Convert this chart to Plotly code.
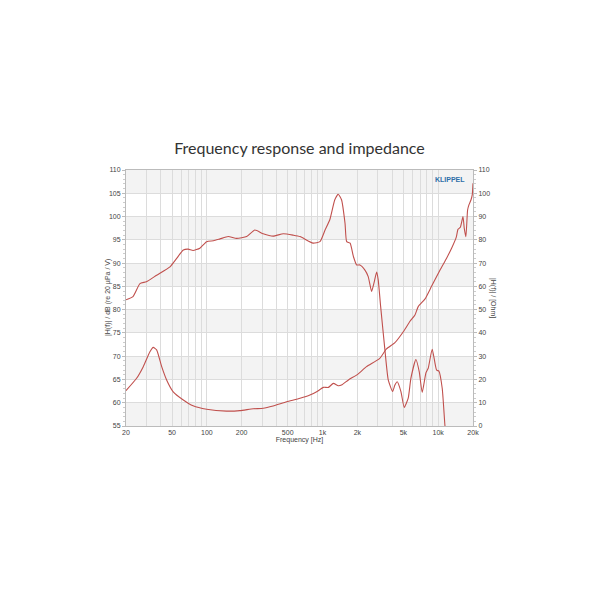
import plotly.graph_objects as go

# ── Data ─────────────────────────────────────────────────────────────────────
# Sound pressure level, dB (re 20 µPa / V)
fr_freq = [20, 23, 26.4, 30, 36.8, 48, 54.8, 62.6, 69, 76, 87, 99.6, 114, 130,
           153, 181, 221, 260, 307, 374, 458, 558, 639, 828, 950, 1052, 1156,
           1277, 1368, 1460, 1566, 1618, 1732, 1850, 1973, 2106, 2327, 2484,
           2658, 2784, 2937, 3031, 3180, 3464, 3700, 4038, 4226, 4424, 4764,
           5086, 5508, 5812, 6418, 6856, 7278, 7832, 8200, 8878, 9688, 10146,
           10836, 11432, 12000]
fr_db = [82.1, 82.8, 85.6, 86.0, 87.4, 89.2, 91.0, 92.8, 93.0, 92.7, 93.2,
         94.6, 94.8, 95.2, 95.7, 95.3, 95.7, 97.1, 96.3, 95.8, 96.3, 96.0,
         95.7, 94.3, 94.6, 97.1, 99.3, 103.6, 104.8, 103.6, 98.5, 94.6, 94.3,
         91.4, 89.6, 89.6, 88.5, 87.1, 83.9, 85.7, 88.1, 86.4, 80.7, 71.3,
         64.9, 62.4, 63.8, 64.5, 62.4, 59.0, 61.0, 65.3, 69.3, 66.7, 62.2,
         66.4, 67.4, 71.5, 67.0, 66.8, 63.1, 55.2, 50.0]

# Electrical impedance, Ohm
z_freq = [20, 24.7, 28.2, 32.2, 34.4, 36.8, 40.7, 44.9, 51.2, 62.6, 76, 99.6,
          148, 193, 252, 307, 374, 490, 639, 778, 890, 1018, 1124, 1242, 1368,
          1460, 1674, 2026, 2400, 3126, 3572, 4226, 4994, 5706, 6298, 6720,
          7674, 8740, 10380, 11820, 13060, 14360, 14820, 15540, 16380, 16800,
          17360, 17960, 18440, 19200, 19700, 20000]
z_ohm = [15.2, 20.5, 25.5, 31.9, 33.8, 32.7, 25.5, 19.8, 14.7, 11.2, 8.7, 7.2,
         6.4, 6.6, 7.4, 7.6, 8.6, 10.4, 11.9, 13.3, 14.7, 16.6, 16.6, 18.3,
         17.3, 17.6, 19.8, 22.3, 25.5, 29.1, 33.1, 35.8, 40.5, 45.0, 47.7,
         51.3, 54.5, 59.9, 67.0, 72.1, 76.4, 81.3, 84.5, 85.4, 90.0, 85.0,
         81.3, 92.8, 95.0, 97.1, 99.3, 104.3]

# Axis ticks
x_tickvals = [20, 50, 100, 200, 500, 1000, 2000, 5000, 10000, 20000]
x_ticktext = ["20", "50", "100", "200", "500", "1k", "2k", "5k", "10k", "20k"]
x_gridvals = [30, 40, 60, 70, 80, 90, 300, 400, 600, 700, 800, 900,
              3000, 4000, 6000, 7000, 8000, 9000]
db_ticks = [55, 60, 65, 70, 75, 80, 85, 90, 95, 100, 105, 110]
ohm_ticks = [0, 10, 20, 30, 40, 50, 60, 70, 80, 90, 100, 110]

# ── Style ────────────────────────────────────────────────────────────────────
COLOR_CURVE = "#c0504d"
COLOR_GRID  = "#dcdcdc"
COLOR_BAND  = "#f3f3f3"
COLOR_TEXT  = "#444444"
TICK_FONT   = dict(family="Liberation Sans", size=7, color=COLOR_TEXT)
CURVE_LINE  = dict(color=COLOR_CURVE, width=1.1, shape="spline", smoothing=0.5)

fig = go.Figure()

fig.add_trace(go.Scatter(x=fr_freq, y=fr_db, mode="lines", name="SPL", line=CURVE_LINE))
fig.add_trace(go.Scatter(x=z_freq, y=z_ohm, mode="lines", name="Impedance",
                         yaxis="y2", line=CURVE_LINE))

# alternating grey bands: 105-110, 95-100, ...
for lo, hi in zip(db_ticks[::-1][1::2], db_ticks[::-1][0::2]):
    fig.add_shape(type="rect", xref="paper", yref="y", x0=0, x1=1, y0=lo, y1=hi,
                  fillcolor=COLOR_BAND, line_width=0, layer="below")

fig.add_annotation(
    x=1, y=1, xref="paper", yref="paper", xanchor="right", yanchor="top",
    xshift=-6, yshift=-4, text="<b>KLIPPEL</b>", showarrow=False,
    font=dict(family="Liberation Sans", size=7, color="#2f6fa8"),
)
# axis titles placed as annotations for exact position
fig.add_annotation(
    x=0, y=0.5, xref="paper", yref="paper", xanchor="right", yanchor="middle",
    xshift=-12, text="|H(f)| / dB (re 20 µPa / V)", textangle=-90, showarrow=False,
    font=TICK_FONT,
)
fig.add_annotation(
    x=1, y=0.5, xref="paper", yref="paper", xanchor="left", yanchor="middle",
    xshift=14, text="|H(f)| / [Ohm]", textangle=90, showarrow=False,
    font=TICK_FONT,
)

# page body adds ~8px offset, so margins are shifted to land the plot at 126..473 / 170..426
fig.update_layout(
    width=600, height=600,
    margin=dict(l=118, r=135, t=162, b=182),
    paper_bgcolor="white", plot_bgcolor="white",
    showlegend=False,
    title=dict(text="Frequency response and impedance", x=0.5, xanchor="center",
               xref="paper", y=1 - 140 / 600, yanchor="middle", yref="container",
               font=dict(family="Lato", size=16, color="#333333")),
    xaxis=dict(
        type="log", range=[1.30103, 4.30103],
        tickvals=x_tickvals, ticktext=x_ticktext, tickfont=TICK_FONT,
        showgrid=True, gridcolor=COLOR_GRID, gridwidth=1,
        minor=dict(tickvals=x_gridvals, showgrid=True, gridcolor=COLOR_GRID),
        showline=True, linecolor="#bbbbbb", mirror=True,
        ticks="", zeroline=False, automargin=False,
        title=dict(text="Frequency [Hz]", font=TICK_FONT, standoff=0),
    ),
    yaxis=dict(
        range=[55, 110], tickvals=db_ticks, tickfont=TICK_FONT,
        showgrid=True, gridcolor=COLOR_GRID,
        showline=True, linecolor="#bbbbbb",
        ticks="outside", ticklen=3, tickcolor="#bbbbbb",
        minor=dict(dtick=1, ticks="outside", ticklen=2, tickcolor="#cccccc", showgrid=False),
        zeroline=False, automargin=False,
    ),
    yaxis2=dict(
        range=[0, 110], tickvals=ohm_ticks, tickfont=TICK_FONT,
        overlaying="y", side="right", showgrid=False,
        showline=True, linecolor="#bbbbbb",
        ticks="outside", ticklen=3, tickcolor="#bbbbbb",
        minor=dict(dtick=2, ticks="outside", ticklen=2, tickcolor="#cccccc", showgrid=False),
        zeroline=False, automargin=False,
    ),
)

fig.write_html("out.html")
